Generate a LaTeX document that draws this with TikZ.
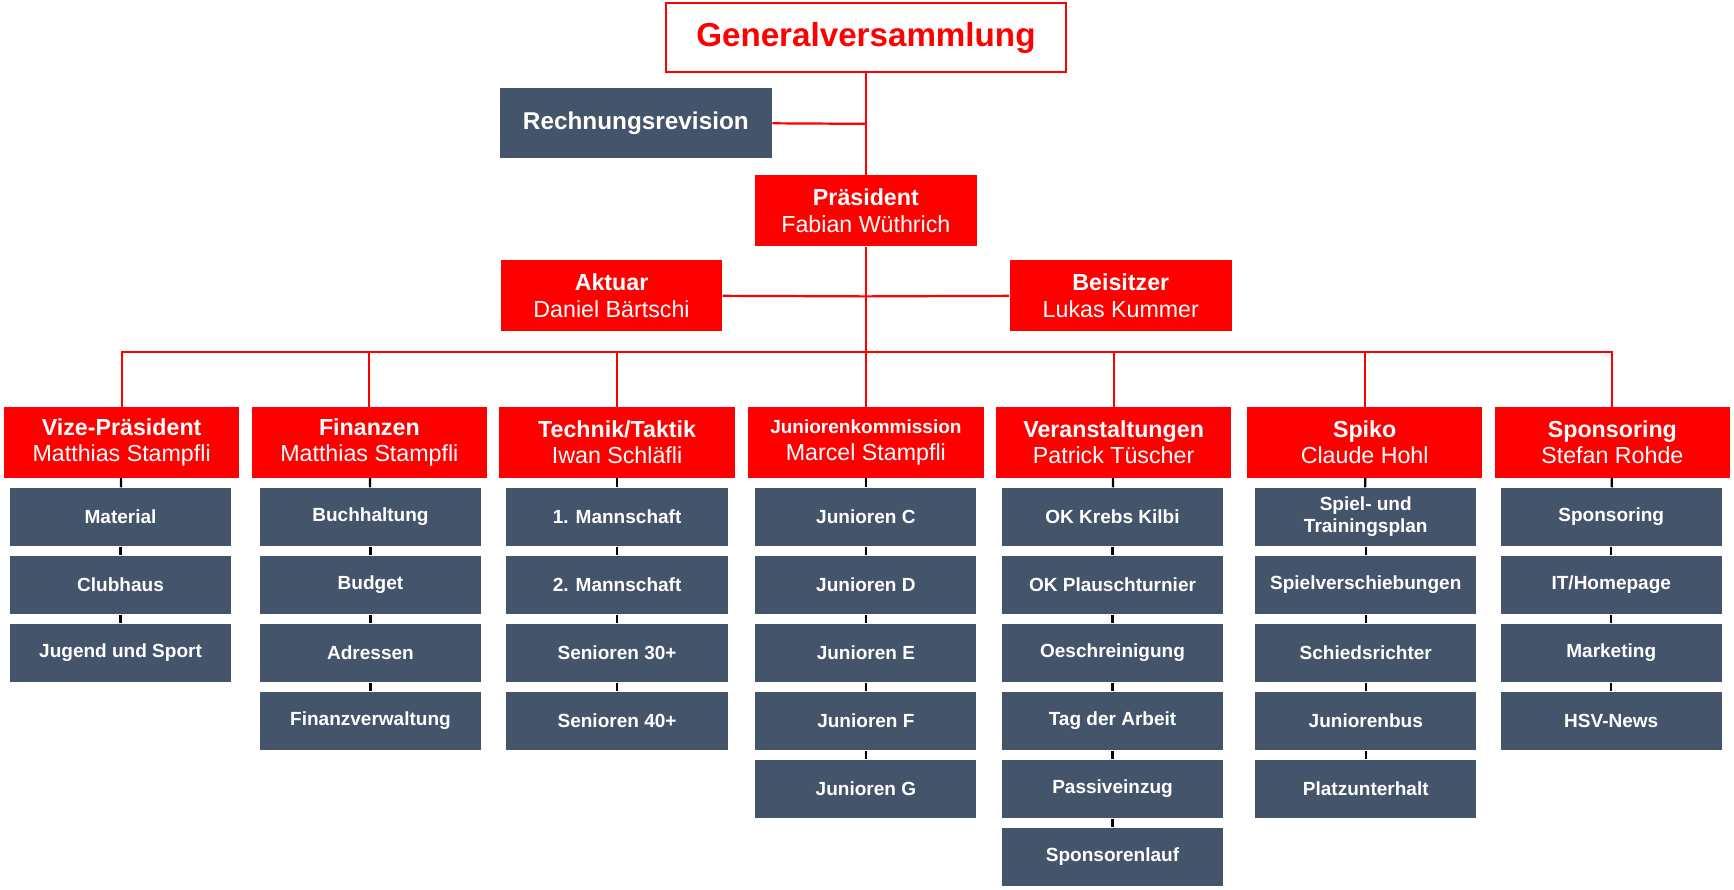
\documentclass[tikz,border=0pt]{standalone}
\usepackage{fontspec}
\setmainfont{Liberation Sans}
\begin{document}
\begin{tikzpicture}[x=0.5pt,y=-0.5pt,
 red/.style={draw=none,fill=red,text=white,minimum width=106.5pt,minimum height=32pt,inner sep=0pt,align=center,font=\fontsize{10.5}{12}\selectfont},
 gray/.style={draw=none,fill=gray1,text=white,minimum width=100pt,minimum height=26.5pt,inner sep=0pt,align=center,font=\bfseries\fontsize{8.6}{10}\selectfont},
 rl/.style={draw=red,line width=1pt},
 bl/.style={draw=black,line width=1pt}]
\definecolor{gray1}{HTML}{44546A}
\useasboundingbox (0,0) rectangle (1568,804);
\node[draw=red,line width=1pt,fill=white,minimum width=181pt,minimum height=31pt,text=red,font=\bfseries\fontsize{15}{18}\selectfont] (gv) at (783,34) {Generalversammlung};
\node[gray,minimum width=123pt,minimum height=31.5pt,font=\bfseries\fontsize{11}{13}\selectfont] (rr) at (575,111.5) {Rechnungsrevision};
\node[red,minimum width=100.5pt] (pr) at (783,190.5) {\textbf{Präsident}\\Fabian Wüthrich};
\node[red,minimum width=100pt] (ak) at (553,267.5) {\textbf{Aktuar}\\Daniel Bärtschi};
\node[red,minimum width=100.5pt] (be) at (1013.5,267.5) {\textbf{Beisitzer}\\Lukas Kummer};
\coordinate (t1) at (783,112);
\coordinate (t2) at (783,268);
\coordinate (bus) at (783,318);
\draw[rl] (gv) -- (pr);
\draw[rl] (rr.east) -- (t1);
\draw[rl] (pr) -- (bus);
\draw[rl] (ak.east) -- (t2) -- (be.west);
\foreach \i/\x/\t/\n in {1/110/Vize-Präsident/Matthias Stampfli,2/334/Finanzen/Matthias Stampfli,3/558/Technik\slash Taktik/Iwan Schläfli,5/1007/Veranstaltungen/Patrick Tüscher,6/1234/Spiko/Claude Hohl,7/1458/Sponsoring/Stefan Rohde}{
 \node[red] (h\i) at (\x,400) {\textbf{\t}\\\n};
}
\node[red] (h4) at (783,400) {\textbf{\fontsize{8.6}{10}\selectfont Juniorenkommission}\\Marcel Stampfli};
\draw[rl] (h1.north) -- (110,318) -- (1458,318) -- (h7.north);
\foreach \i/\x in {2/334,3/558,4/783,5/1007,6/1234}{\draw[rl] (\x,318) -- (h\i.north);}
\newcommand{\col}[3]{%
 \foreach \t [count=\k] in {#3}{
  \node[gray] (g#1-\k) at (#2,{467.5+61.5*(\k-1)}) {\t};
 }
}
\col{1}{109}{Material,Clubhaus,Jugend und Sport}
\col{2}{335}{Buchhaltung,Budget,Adressen,Finanzverwaltung}
\col{3}{558}{1. Mannschaft,2. Mannschaft,Senioren 30+,Senioren 40+}
\col{4}{783}{Junioren C,Junioren D,Junioren E,Junioren F,Junioren G}
\col{5}{1006}{OK Krebs Kilbi,OK Plauschturnier,Oeschreinigung,Tag der Arbeit,Passiveinzug,Sponsorenlauf}
\col{6}{1235}{{Spiel- und\\Trainingsplan},Spielverschiebungen,Schiedsrichter,Juniorenbus,Platzunterhalt}
\col{7}{1457}{Sponsoring,IT/Homepage,Marketing,HSV-News}
\draw[bl] (h1) -- (g1-1); \draw[bl] (g1-1)--(g1-2); \draw[bl] (g1-2)--(g1-3);
\draw[bl] (h2) -- (g2-1); \foreach \a/\b in {1/2,2/3,3/4}{\draw[bl] (g2-\a)--(g2-\b);}
\draw[bl] (h3) -- (g3-1); \foreach \a/\b in {1/2,2/3,3/4}{\draw[bl] (g3-\a)--(g3-\b);}
\draw[bl] (h4) -- (g4-1); \foreach \a/\b in {1/2,2/3,3/4,4/5}{\draw[bl] (g4-\a)--(g4-\b);}
\draw[bl] (h5) -- (g5-1); \foreach \a/\b in {1/2,2/3,3/4,4/5,5/6}{\draw[bl] (g5-\a)--(g5-\b);}
\draw[bl] (h6) -- (g6-1); \foreach \a/\b in {1/2,2/3,3/4,4/5}{\draw[bl] (g6-\a)--(g6-\b);}
\draw[bl] (h7) -- (g7-1); \foreach \a/\b in {1/2,2/3,3/4}{\draw[bl] (g7-\a)--(g7-\b);}
\end{tikzpicture}
\end{document}
